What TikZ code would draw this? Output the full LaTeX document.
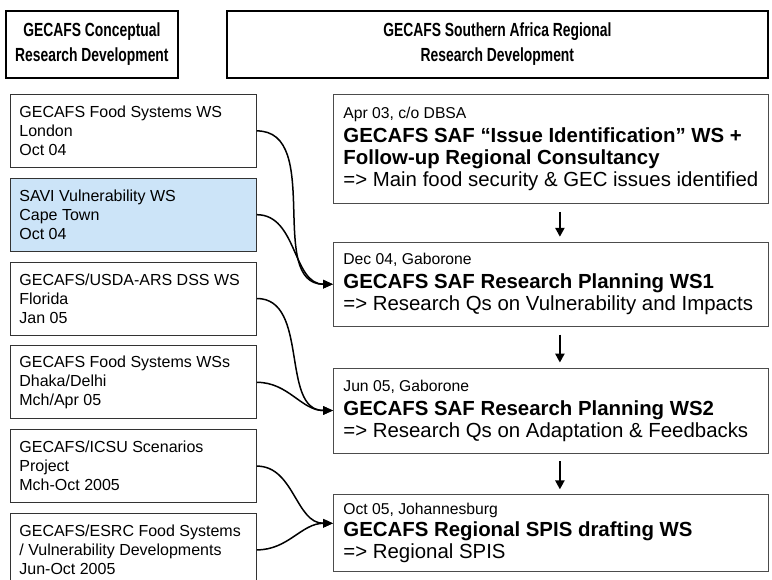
\documentclass[tikz,border=0pt]{standalone}
\usepackage{fontspec}
\setmainfont{Liberation Sans}
\newfontfamily\headfont[FakeStretch=0.73]{Liberation Sans}
\usepackage{xcolor}
\usetikzlibrary{arrows.meta, positioning}

\definecolor{savifill}{RGB}{204,228,248}

\begin{document}
\begin{tikzpicture}[
    x=1pt, y=-1pt,
    headbox/.style={rectangle, draw, line width=1.8pt, align=flush center, inner sep=0pt,
        font=\headfont\bfseries\fontsize{19}{25}\selectfont},
    leftbox/.style={rectangle, draw=black!80, line width=0.8pt, minimum height=73pt,
        text width=228pt, inner xsep=9pt, inner ysep=0pt, align=flush left,
        font=\fontsize{16}{19}\selectfont},
    rightbox/.style={rectangle, draw=black!70, line width=0.8pt,
        text width=415pt, inner xsep=10pt, inner ysep=0pt, align=flush left,
        font=\fontsize{20.4}{22}\selectfont},
    link/.style={-{Triangle[length=10pt,width=8.5pt]}, line width=1.5pt},
    downarrow/.style={-{Triangle[length=9pt,width=9pt]}, line width=2.6pt,
        shorten <=8pt, shorten >=5pt}
]
    \clip (0,0) rectangle (772,580);

    % Column headers
    \node[headbox, minimum width=172pt, minimum height=67pt, anchor=north west] (hleft) at (5,10)
        {GECAFS Conceptual\\Research Development};
    \node[headbox, minimum width=541pt, minimum height=67pt, anchor=north west] (hright) at (226,10)
        {GECAFS Southern Africa Regional\\Research Development};

    % Left column: conceptual development
    \node[leftbox, anchor=north west] (l1) at (10,94) {GECAFS Food Systems WS\\London\\Oct 04};
    \node[leftbox, fill=savifill, below=10pt of l1] (l2) {SAVI Vulnerability WS\\Cape Town\\Oct 04};
    \node[leftbox, below=10pt of l2] (l3) {GECAFS/USDA-ARS DSS WS\\Florida\\Jan 05};
    \node[leftbox, below=10pt of l3] (l4) {GECAFS Food Systems WSs\\Dhaka/Delhi\\Mch/Apr 05};
    \node[leftbox, below=10pt of l4] (l5) {GECAFS/ICSU Scenarios\\Project\\Mch-Oct 2005};
    \node[leftbox, below=10pt of l5] (l6) {GECAFS/ESRC Food Systems\\/ Vulnerability Developments\\Jun-Oct 2005};

    % Right column: regional development
    \node[rightbox, minimum height=109pt, anchor=north west] (r1) at (333,94)
        {{\fontsize{15.7}{22}\selectfont Apr 03, c/o DBSA}\\[2pt]
         \textbf{GECAFS SAF “Issue Identification” WS +}\\
         \textbf{Follow-up Regional Consultancy}\\
         => Main food security \& GEC issues identified};
    \node[rightbox, minimum height=84pt, below=38pt of r1] (r2)
        {{\fontsize{15.7}{22}\selectfont Dec 04, Gaborone}\\[2pt]
         \textbf{GECAFS SAF Research Planning WS1}\\
         => Research Qs on Vulnerability and Impacts};
    \node[rightbox, minimum height=85pt, below=41pt of r2] (r3)
        {{\fontsize{15.7}{22}\selectfont Jun 05, Gaborone}\\[2pt]
         \textbf{GECAFS SAF Research Planning WS2}\\
         => Research Qs on Adaptation \& Feedbacks};
    \node[rightbox, minimum height=77pt, below=41pt of r3] (r4)
        {{\fontsize{15.7}{22}\selectfont Oct 05, Johannesburg}\\
         \textbf{GECAFS Regional SPIS drafting WS}\\
         => Regional SPIS};

    % Regional sequence
    \draw[downarrow] ([xshift=9pt]r1.south) -- ([xshift=9pt]r2.north);
    \draw[downarrow] ([xshift=9pt]r2.south) -- ([xshift=9pt]r3.north);
    \draw[downarrow] ([xshift=9pt]r3.south) -- ([xshift=9pt]r4.north);

    % Conceptual inputs
    \draw[link] (l1.east) to[out=0, in=180] (r2.west);
    \draw[link] (l2.east) to[out=0, in=180] (r2.west);
    \draw[link] (l3.east) to[out=0, in=180] (r3.west);
    \draw[link] (l4.east) to[out=0, in=180] (r3.west);
    \draw[link] (l5.east) to[out=0, in=180] ([yshift=10pt]r4.west);
    \draw[link] (l6.east) to[out=0, in=180] ([yshift=10pt]r4.west);
\end{tikzpicture}
\end{document}
